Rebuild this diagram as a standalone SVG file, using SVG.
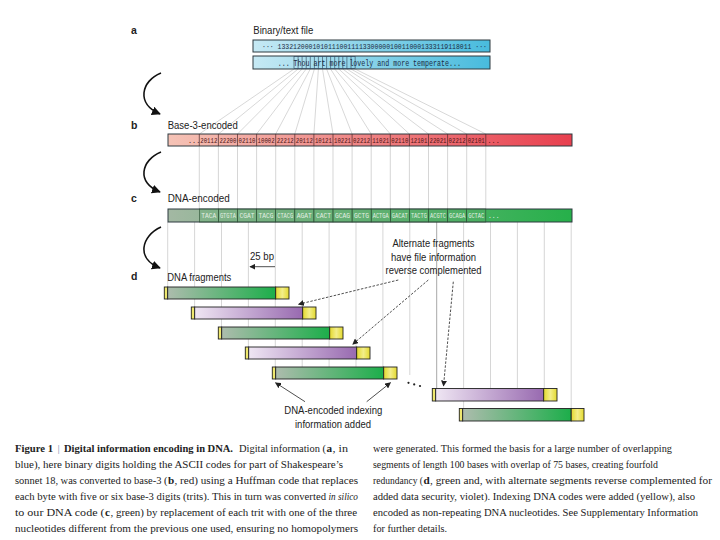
<svg xmlns="http://www.w3.org/2000/svg" width="720" height="540" viewBox="0 0 720 540">
<style>
.lbl{font-family:"Liberation Sans",Arial,sans-serif;font-size:10px;fill:#222}
.pl{font-family:"Liberation Sans",Arial,sans-serif;font-size:10.5px;font-weight:bold;fill:#222}
.mono{font-family:"Liberation Mono","DejaVu Sans Mono",monospace}
.cap{font-family:"Liberation Serif","Times New Roman",serif;font-size:11.2px;fill:#222}
.b{font-weight:bold}
.bar{stroke:#2e3a40;stroke-width:1}
.frag{stroke:#222;stroke-width:0.9}
.vl{stroke:#c4c4c4;stroke-width:0.7;fill:none}
.fan{stroke:#bdbdbd;stroke-width:0.6;fill:none}
.dash{stroke:#222;stroke-width:0.8;stroke-dasharray:2.5,1.5;fill:none}
.thin{stroke:#222;stroke-width:0.8;fill:none}
.curve{stroke:#111;stroke-width:1.6;fill:none}
.cell{fill:#5aa96a;fill-opacity:0.35;stroke:#2d4d35;stroke-width:0.6}
.bt{fill:#4a1212;font-size:6.8px}
.ct{fill:#e4efe4;font-size:6.4px}
</style>
<defs>
<linearGradient id="gBlue" x1="0" x2="1" y1="0" y2="0"><stop offset="0" stop-color="#c6e9f4"/><stop offset="1" stop-color="#48bbdd"/></linearGradient>
<linearGradient id="gRed" x1="0" x2="1" y1="0" y2="0"><stop offset="0" stop-color="#f5c3b6"/><stop offset="1" stop-color="#e8404f"/></linearGradient>
<linearGradient id="gGreenBar" x1="0" x2="1" y1="0" y2="0"><stop offset="0" stop-color="#a3b8a3"/><stop offset="1" stop-color="#26b04a"/></linearGradient>
<linearGradient id="gGreen" x1="0" x2="1" y1="0" y2="0"><stop offset="0" stop-color="#adbcad"/><stop offset="1" stop-color="#1cae4a"/></linearGradient>
<linearGradient id="gViolet" x1="0" x2="1" y1="0" y2="0"><stop offset="0" stop-color="#efe6f3"/><stop offset="1" stop-color="#986ab0"/></linearGradient>
<linearGradient id="gYel" x1="0" x2="1" y1="0" y2="0"><stop offset="0" stop-color="#e3d92e"/><stop offset="0.5" stop-color="#f3ee8a"/><stop offset="1" stop-color="#e3d92e"/></linearGradient>
<marker id="ah" viewBox="0 0 10 10" refX="9" refY="5" markerWidth="9" markerHeight="9" markerUnits="userSpaceOnUse" orient="auto"><path d="M0,0 L10,5 L0,10 z" fill="#111"/></marker>
<marker id="ahs" viewBox="0 0 10 10" refX="9" refY="5" markerWidth="6" markerHeight="6" markerUnits="userSpaceOnUse" orient="auto"><path d="M0,0 L10,5 L0,10 z" fill="#222"/></marker>
</defs>
<rect width="720" height="540" fill="#fff"/>

<g id="connectors">
  <g class="fan">
    <line x1="294" y1="69" x2="199.3" y2="134"/>
    <line x1="298.1" y1="69" x2="218.4" y2="134"/>
    <line x1="302.1" y1="69" x2="237.5" y2="134"/>
    <line x1="306.2" y1="69" x2="256.6" y2="134"/>
    <line x1="310.3" y1="69" x2="275.7" y2="134"/>
    <line x1="314.4" y1="69" x2="294.8" y2="134"/>
    <line x1="318.4" y1="69" x2="313.9" y2="134"/>
    <line x1="322.5" y1="69" x2="333.0" y2="134"/>
    <line x1="326.6" y1="69" x2="352.1" y2="134"/>
    <line x1="330.6" y1="69" x2="371.2" y2="134"/>
    <line x1="334.7" y1="69" x2="390.3" y2="134"/>
    <line x1="338.8" y1="69" x2="409.4" y2="134"/>
    <line x1="342.8" y1="69" x2="428.5" y2="134"/>
    <line x1="346.9" y1="69" x2="447.6" y2="134"/>
    <line x1="351.0" y1="69" x2="466.7" y2="134"/>
    <line x1="355.1" y1="69" x2="485.8" y2="134"/>
  </g>
  <g class="vl">
    <line x1="199.3" y1="146" x2="199.3" y2="209"/>
    <line x1="218.4" y1="146" x2="218.4" y2="209"/>
    <line x1="237.5" y1="146" x2="237.5" y2="209"/>
    <line x1="256.6" y1="146" x2="256.6" y2="209"/>
    <line x1="275.7" y1="146" x2="275.7" y2="209"/>
    <line x1="294.8" y1="146" x2="294.8" y2="209"/>
    <line x1="313.9" y1="146" x2="313.9" y2="209"/>
    <line x1="333.0" y1="146" x2="333.0" y2="209"/>
    <line x1="352.1" y1="146" x2="352.1" y2="209"/>
    <line x1="371.2" y1="146" x2="371.2" y2="209"/>
    <line x1="390.3" y1="146" x2="390.3" y2="209"/>
    <line x1="409.4" y1="146" x2="409.4" y2="209"/>
    <line x1="428.5" y1="146" x2="428.5" y2="209"/>
    <line x1="447.6" y1="146" x2="447.6" y2="209"/>
    <line x1="466.7" y1="146" x2="466.7" y2="209"/>
    <line x1="485.8" y1="146" x2="485.8" y2="209"/>
  </g>
  <g class="vl">
    <line x1="167.7" y1="222" x2="167.7" y2="287"/>
    <line x1="194.6" y1="222" x2="194.6" y2="307"/>
    <line x1="221.5" y1="222" x2="221.5" y2="327"/>
    <line x1="248.4" y1="222" x2="248.4" y2="347"/>
    <line x1="275.3" y1="222" x2="275.3" y2="367"/>
    <line x1="302.2" y1="222" x2="302.2" y2="367"/>
    <line x1="329.1" y1="222" x2="329.1" y2="367"/>
    <line x1="356.0" y1="222" x2="356.0" y2="367"/>
    <line x1="382.9" y1="222" x2="382.9" y2="367"/>
    <line x1="409.8" y1="222" x2="409.8" y2="375"/>
    <line x1="436.7" y1="222" x2="436.7" y2="388" stroke="#a8a8a8" stroke-width="1"/>
    <line x1="463.6" y1="222" x2="463.6" y2="408"/>
    <line x1="490.5" y1="222" x2="490.5" y2="388"/>
    <line x1="517.4" y1="222" x2="517.4" y2="388"/>
    <line x1="544.3" y1="222" x2="544.3" y2="388"/>
    <line x1="571.2" y1="222" x2="571.2" y2="408"/>
  </g>
  <path class="curve" d="M161,73 C141,81 136,104 160,114" marker-end="url(#ah)"/>
  <path class="curve" d="M161,152 C141,160 136,183 160,192" marker-end="url(#ah)"/>
  <path class="curve" d="M161,227 C141,236 136,259 160,268" marker-end="url(#ah)"/>
  <line class="thin" x1="275" y1="266.7" x2="250" y2="266.7" marker-end="url(#ahs)"/>
  <line class="dash" x1="398.3" y1="280" x2="298.5" y2="304.3" marker-end="url(#ahs)"/>
  <line class="dash" x1="428.3" y1="280" x2="352.7" y2="344.3" marker-end="url(#ahs)"/>
  <line class="dash" x1="453.3" y1="281.7" x2="443.5" y2="386" marker-end="url(#ahs)"/>
  <line class="thin" x1="305" y1="401.7" x2="275.5" y2="382.7" marker-end="url(#ahs)"/>
  <line class="thin" x1="366.7" y1="401.7" x2="390.5" y2="382.7" marker-end="url(#ahs)"/>
</g>

<g id="panel-labels">
  <text class="pl" x="131" y="34">a</text>
  <text class="pl" x="131" y="129">b</text>
  <text class="pl" x="131" y="202">c</text>
  <text class="pl" x="131" y="280">d</text>
</g>

<g id="binary-file">
  <text class="lbl" x="253.3" y="34" textLength="60" lengthAdjust="spacingAndGlyphs">Binary/text file</text>
  <rect class="bar" x="253" y="40" width="237" height="12" fill="url(#gBlue)"/>
  <text class="mono" x="262" y="49.3" font-size="8" fill="#1c2c44" textLength="225" lengthAdjust="spacingAndGlyphs">··· 13321200010101110011113300000100110001333119118011 ···</text>
  <rect class="bar" x="253" y="56" width="237" height="13" fill="url(#gBlue)"/>
  <g stroke="#2b3f55" stroke-width="0.6">
    <rect x="294" y="56.5" width="61.1" height="12" fill="none"/>
    <line x1="298.1" y1="56.5" x2="298.1" y2="68.5"/>
    <line x1="302.1" y1="56.5" x2="302.1" y2="68.5"/>
    <line x1="306.2" y1="56.5" x2="306.2" y2="68.5"/>
    <line x1="310.3" y1="56.5" x2="310.3" y2="68.5"/>
    <line x1="314.4" y1="56.5" x2="314.4" y2="68.5"/>
    <line x1="318.4" y1="56.5" x2="318.4" y2="68.5"/>
    <line x1="322.5" y1="56.5" x2="322.5" y2="68.5"/>
    <line x1="326.6" y1="56.5" x2="326.6" y2="68.5"/>
    <line x1="330.6" y1="56.5" x2="330.6" y2="68.5"/>
    <line x1="334.7" y1="56.5" x2="334.7" y2="68.5"/>
    <line x1="338.8" y1="56.5" x2="338.8" y2="68.5"/>
    <line x1="342.8" y1="56.5" x2="342.8" y2="68.5"/>
    <line x1="346.9" y1="56.5" x2="346.9" y2="68.5"/>
    <line x1="351.0" y1="56.5" x2="351.0" y2="68.5"/>
  </g>
  <text class="mono" x="277.7" y="65.5" font-size="8.5" fill="#1c2c44" textLength="183.2" lengthAdjust="spacingAndGlyphs">... Thou art more lovely and more temperate...</text>
</g>

<g id="base3">
  <text class="lbl" x="167.7" y="129" textLength="70" lengthAdjust="spacingAndGlyphs">Base-3-encoded</text>
  <rect class="bar" x="168" y="134" width="404" height="12" fill="url(#gRed)"/>
  <g stroke="#4a2a2a" stroke-width="0.7">
    <line x1="199.3" y1="134" x2="199.3" y2="146"/>
    <line x1="218.4" y1="134" x2="218.4" y2="146"/>
    <line x1="237.5" y1="134" x2="237.5" y2="146"/>
    <line x1="256.6" y1="134" x2="256.6" y2="146"/>
    <line x1="275.7" y1="134" x2="275.7" y2="146"/>
    <line x1="294.8" y1="134" x2="294.8" y2="146"/>
    <line x1="313.9" y1="134" x2="313.9" y2="146"/>
    <line x1="333.0" y1="134" x2="333.0" y2="146"/>
    <line x1="352.1" y1="134" x2="352.1" y2="146"/>
    <line x1="371.2" y1="134" x2="371.2" y2="146"/>
    <line x1="390.3" y1="134" x2="390.3" y2="146"/>
    <line x1="409.4" y1="134" x2="409.4" y2="146"/>
    <line x1="428.5" y1="134" x2="428.5" y2="146"/>
    <line x1="447.6" y1="134" x2="447.6" y2="146"/>
    <line x1="466.7" y1="134" x2="466.7" y2="146"/>
    <line x1="485.8" y1="134" x2="485.8" y2="146"/>
  </g>
  <g class="mono bt">
    <text x="188" y="143">...</text>
    <text x="200.3" y="143" textLength="17" lengthAdjust="spacingAndGlyphs">20112</text>
    <text x="219.4" y="143" textLength="17" lengthAdjust="spacingAndGlyphs">22200</text>
    <text x="238.5" y="143" textLength="17" lengthAdjust="spacingAndGlyphs">02110</text>
    <text x="257.6" y="143" textLength="17" lengthAdjust="spacingAndGlyphs">10002</text>
    <text x="276.7" y="143" textLength="17" lengthAdjust="spacingAndGlyphs">22212</text>
    <text x="295.8" y="143" textLength="17" lengthAdjust="spacingAndGlyphs">20112</text>
    <text x="314.9" y="143" textLength="17" lengthAdjust="spacingAndGlyphs">10121</text>
    <text x="334.0" y="143" textLength="17" lengthAdjust="spacingAndGlyphs">10221</text>
    <text x="353.1" y="143" textLength="17" lengthAdjust="spacingAndGlyphs">02212</text>
    <text x="372.2" y="143" textLength="17" lengthAdjust="spacingAndGlyphs">11021</text>
    <text x="391.3" y="143" textLength="17" lengthAdjust="spacingAndGlyphs">02110</text>
    <text x="410.4" y="143" textLength="17" lengthAdjust="spacingAndGlyphs">12101</text>
    <text x="429.5" y="143" textLength="17" lengthAdjust="spacingAndGlyphs">22021</text>
    <text x="448.6" y="143" textLength="17" lengthAdjust="spacingAndGlyphs">02212</text>
    <text x="467.7" y="143" textLength="17" lengthAdjust="spacingAndGlyphs">02101</text>
    <text x="487.5" y="143">...</text>
  </g>
</g>

<g id="dna-encoded">
  <text class="lbl" x="167.7" y="202" textLength="62" lengthAdjust="spacingAndGlyphs">DNA-encoded</text>
  <rect class="bar" x="168" y="209" width="404" height="13" fill="url(#gGreenBar)"/>
  <g>
    <rect class="cell" x="199.3" y="209" width="19.1" height="13"/>
    <rect class="cell" x="218.4" y="209" width="19.1" height="13"/>
    <rect class="cell" x="237.5" y="209" width="19.1" height="13"/>
    <rect class="cell" x="256.6" y="209" width="19.1" height="13"/>
    <rect class="cell" x="275.7" y="209" width="19.1" height="13"/>
    <rect class="cell" x="294.8" y="209" width="19.1" height="13"/>
    <rect class="cell" x="313.9" y="209" width="19.1" height="13"/>
    <rect class="cell" x="333.0" y="209" width="19.1" height="13"/>
    <rect class="cell" x="352.1" y="209" width="19.1" height="13"/>
    <rect class="cell" x="371.2" y="209" width="19.1" height="13"/>
    <rect class="cell" x="390.3" y="209" width="19.1" height="13"/>
    <rect class="cell" x="409.4" y="209" width="19.1" height="13"/>
    <rect class="cell" x="428.5" y="209" width="19.1" height="13"/>
    <rect class="cell" x="447.6" y="209" width="19.1" height="13"/>
    <rect class="cell" x="466.7" y="209" width="19.1" height="13"/>
  </g>
  <g class="mono ct">
    <text x="201.3" y="218.3" textLength="15" lengthAdjust="spacingAndGlyphs">TACA</text>
    <text x="219.9" y="218.3" textLength="16" lengthAdjust="spacingAndGlyphs">GTGTA</text>
    <text x="239.5" y="218.3" textLength="15" lengthAdjust="spacingAndGlyphs">CGAT</text>
    <text x="258.6" y="218.3" textLength="15" lengthAdjust="spacingAndGlyphs">TACG</text>
    <text x="277.2" y="218.3" textLength="16" lengthAdjust="spacingAndGlyphs">CTACG</text>
    <text x="296.8" y="218.3" textLength="15" lengthAdjust="spacingAndGlyphs">AGAT</text>
    <text x="315.9" y="218.3" textLength="15" lengthAdjust="spacingAndGlyphs">CACT</text>
    <text x="335.0" y="218.3" textLength="15" lengthAdjust="spacingAndGlyphs">GCAG</text>
    <text x="354.1" y="218.3" textLength="15" lengthAdjust="spacingAndGlyphs">GCTG</text>
    <text x="372.7" y="218.3" textLength="16" lengthAdjust="spacingAndGlyphs">ACTGA</text>
    <text x="391.8" y="218.3" textLength="16" lengthAdjust="spacingAndGlyphs">GACAT</text>
    <text x="410.9" y="218.3" textLength="16" lengthAdjust="spacingAndGlyphs">TACTG</text>
    <text x="430.0" y="218.3" textLength="16" lengthAdjust="spacingAndGlyphs">ACGTC</text>
    <text x="449.1" y="218.3" textLength="16" lengthAdjust="spacingAndGlyphs">GCAGA</text>
    <text x="468.2" y="218.3" textLength="16" lengthAdjust="spacingAndGlyphs">GCTAC</text>
    <text x="488" y="218.3">...</text>
  </g>
</g>

<g id="fragments-labels">
  <text class="lbl" x="262" y="260" text-anchor="middle" textLength="24" lengthAdjust="spacingAndGlyphs">25 bp</text>
  <text class="lbl" x="167.3" y="281" textLength="64" lengthAdjust="spacingAndGlyphs">DNA fragments</text>
  <text class="lbl" x="433.5" y="247" text-anchor="middle" textLength="82" lengthAdjust="spacingAndGlyphs">Alternate fragments</text>
  <text class="lbl" x="433.5" y="260.5" text-anchor="middle" textLength="85" lengthAdjust="spacingAndGlyphs">have file information</text>
  <text class="lbl" x="433.5" y="274" text-anchor="middle" textLength="96" lengthAdjust="spacingAndGlyphs">reverse complemented</text>
  <text class="lbl" x="333.3" y="414" text-anchor="middle" textLength="98" lengthAdjust="spacingAndGlyphs">DNA-encoded indexing</text>
  <text class="lbl" x="333" y="427.5" text-anchor="middle" textLength="76" lengthAdjust="spacingAndGlyphs">information added</text>
  <g fill="#222">
    <circle cx="408.5" cy="382.8" r="1.1"/>
    <circle cx="414.2" cy="384.4" r="1.1"/>
    <circle cx="420" cy="386" r="1.1"/>
  </g>
</g>

<g id="fragment-1">
  <rect class="frag" x="164.3" y="287" width="3.4" height="12" fill="url(#gYel)"/>
  <rect class="frag" x="167.7" y="287" width="108" height="12" fill="url(#gGreen)"/>
  <rect class="frag" x="275.7" y="287" width="13.3" height="12" fill="url(#gYel)"/>
</g>
<g id="fragment-2">
  <rect class="frag" x="191.3" y="307" width="3.4" height="12" fill="url(#gYel)"/>
  <rect class="frag" x="194.7" y="307" width="108" height="12" fill="url(#gViolet)"/>
  <rect class="frag" x="302.7" y="307" width="13.3" height="12" fill="url(#gYel)"/>
</g>
<g id="fragment-3">
  <rect class="frag" x="218.3" y="327" width="3.4" height="12" fill="url(#gYel)"/>
  <rect class="frag" x="221.7" y="327" width="108" height="12" fill="url(#gGreen)"/>
  <rect class="frag" x="329.7" y="327" width="13.3" height="12" fill="url(#gYel)"/>
</g>
<g id="fragment-4">
  <rect class="frag" x="245.3" y="347" width="3.4" height="12" fill="url(#gYel)"/>
  <rect class="frag" x="248.7" y="347" width="108" height="12" fill="url(#gViolet)"/>
  <rect class="frag" x="356.7" y="347" width="13.3" height="12" fill="url(#gYel)"/>
</g>
<g id="fragment-5">
  <rect class="frag" x="272.3" y="367" width="3.4" height="12" fill="url(#gYel)"/>
  <rect class="frag" x="275.7" y="367" width="108" height="12" fill="url(#gGreen)"/>
  <rect class="frag" x="383.7" y="367" width="13.3" height="12" fill="url(#gYel)"/>
</g>
<g id="fragment-6">
  <rect class="frag" x="432.3" y="388.5" width="3.4" height="12.5" fill="url(#gYel)"/>
  <rect class="frag" x="435.7" y="388.5" width="108" height="12.5" fill="url(#gViolet)"/>
  <rect class="frag" x="543.7" y="388.5" width="13.3" height="12.5" fill="url(#gYel)"/>
</g>
<g id="fragment-7">
  <rect class="frag" x="459.3" y="408.5" width="3.4" height="12.5" fill="url(#gYel)"/>
  <rect class="frag" x="462.7" y="408.5" width="108.5" height="12.5" fill="url(#gGreen)"/>
  <rect class="frag" x="571.2" y="408.5" width="12.8" height="12.5" fill="url(#gYel)"/>
</g>

<g id="caption" class="cap">
  <text class="b" x="15" y="451.5" textLength="38" lengthAdjust="spacingAndGlyphs">Figure 1</text>
  <text x="57.5" y="451.5" fill="#7d93ad">|</text>
  <text class="b" x="64" y="451.5" textLength="169" lengthAdjust="spacingAndGlyphs">Digital information encoding in DNA.</text>
  <text x="239" y="451.5" textLength="87" lengthAdjust="spacingAndGlyphs">Digital information (</text>
  <text class="b" x="326.5" y="451.5">a</text>
  <text x="332.5" y="451.5" textLength="15.5" lengthAdjust="spacingAndGlyphs">, in</text>
  <text x="15" y="467.5" textLength="328" lengthAdjust="spacingAndGlyphs">blue), here binary digits holding the ASCII codes for part of Shakespeare’s</text>
  <text x="15" y="483.5" textLength="152.5" lengthAdjust="spacingAndGlyphs">sonnet 18, was converted to base-3 (</text>
  <text class="b" x="168" y="483.5">b</text>
  <text x="174.5" y="483.5" textLength="183.5" lengthAdjust="spacingAndGlyphs">, red) using a Huffman code that replaces</text>
  <text x="15" y="499.5" textLength="311" lengthAdjust="spacingAndGlyphs">each byte with five or six base-3 digits (trits). This in turn was converted</text>
  <text x="328.5" y="499.5" font-style="italic" textLength="29.5" lengthAdjust="spacingAndGlyphs">in silico</text>
  <text x="15" y="515.5" textLength="89.5" lengthAdjust="spacingAndGlyphs">to our DNA code (</text>
  <text class="b" x="105" y="515.5">c</text>
  <text x="110.5" y="515.5" textLength="246.5" lengthAdjust="spacingAndGlyphs">, green) by replacement of each trit with one of the three</text>
  <text x="15" y="531.5" textLength="343" lengthAdjust="spacingAndGlyphs">nucleotides different from the previous one used, ensuring no homopolymers</text>
  <text x="373" y="451.5" textLength="299" lengthAdjust="spacingAndGlyphs">were generated. This formed the basis for a large number of overlapping</text>
  <text x="373" y="467.5" textLength="285" lengthAdjust="spacingAndGlyphs">segments of length 100 bases with overlap of 75 bases, creating fourfold</text>
  <text x="373" y="483.5" textLength="50" lengthAdjust="spacingAndGlyphs">redundancy (</text>
  <text class="b" x="423.5" y="483.5">d</text>
  <text x="430" y="483.5" textLength="282" lengthAdjust="spacingAndGlyphs">, green and, with alternate segments reverse complemented for</text>
  <text x="373" y="499.5" textLength="322" lengthAdjust="spacingAndGlyphs">added data security, violet). Indexing DNA codes were added (yellow), also</text>
  <text x="373" y="515.5" textLength="325" lengthAdjust="spacingAndGlyphs">encoded as non-repeating DNA nucleotides. See Supplementary Information</text>
  <text x="373" y="531.5" textLength="74" lengthAdjust="spacingAndGlyphs">for further details.</text>
</g>
</svg>
